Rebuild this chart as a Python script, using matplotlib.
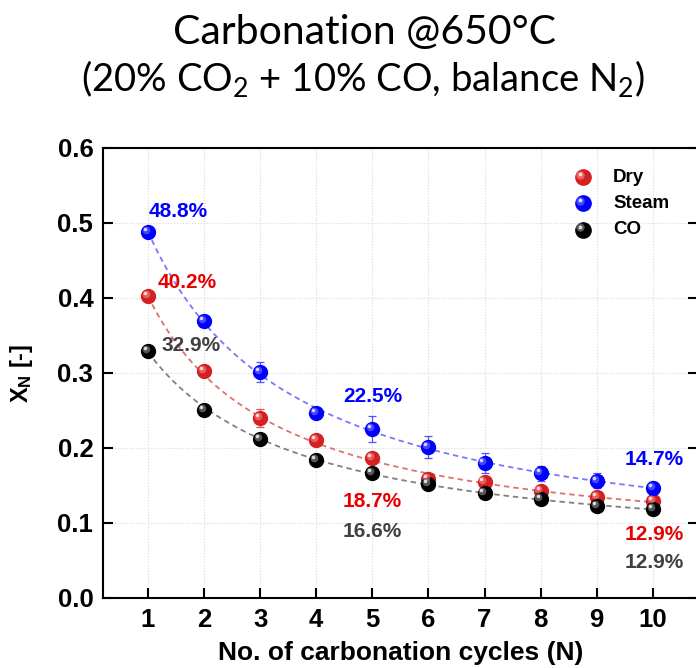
import numpy as np
import matplotlib
matplotlib.use("Agg")
import matplotlib.pyplot as plt
import matplotlib.transforms as mtransforms

plt.rcParams['font.family'] = ['Liberation Sans', 'DejaVu Sans']
plt.rcParams['mathtext.fontset'] = 'custom'
plt.rcParams['mathtext.rm'] = 'Lato'
plt.rcParams['mathtext.it'] = 'Lato:italic'
plt.rcParams['mathtext.bf'] = 'Liberation Sans:bold'

cycles = np.arange(1, 11)

dry = [0.402, 0.302, 0.240, 0.210, 0.187, 0.159, 0.154, 0.142, 0.134, 0.129]
dry_err = [0.003, 0.004, 0.012, 0.006, 0.005, 0.004, 0.004, 0.004, 0.004, 0.003]
steam = [0.488, 0.369, 0.301, 0.247, 0.225, 0.201, 0.180, 0.166, 0.156, 0.147]
steam_err = [0.003, 0.007, 0.013, 0.005, 0.017, 0.015, 0.013, 0.010, 0.010, 0.008]
co = [0.329, 0.251, 0.212, 0.184, 0.166, 0.152, 0.140, 0.132, 0.123, 0.118]
co_err = [0.003, 0.003, 0.004, 0.003, 0.003, 0.003, 0.003, 0.003, 0.003, 0.003]

# (cycle, text) for the percent annotations
dry_labels = [(1, "40.2%"), (5, "18.7%"), (10, "12.9%")]
steam_labels = [(1, "48.8%"), (5, "22.5%"), (10, "14.7%")]
co_labels = [(1, "32.9%"), (5, "16.6%"), (10, "12.9%")]

# where each annotation sits relative to its point (data units)
steam_off = {1: (0.54, 0.027), 5: (0.0, 0.044), 10: (0.02, 0.037)}
dry_off = {1: (0.70, 0.018), 5: (0.0, -0.059), 10: (0.02, -0.045)}
co_off = {1: (0.77, 0.008), 5: (0.0, -0.077), 10: (0.02, -0.071)}


def decay_fit(n, y):
    # X_N = Xr + 1/(p + k*N), residual Xr found by a simple scan
    n = np.asarray(n, float)
    y = np.asarray(y, float)
    best = None
    for xr in np.linspace(0, y.min() - 1e-3, 400):
        k, p = np.polyfit(n, 1.0 / (y - xr), 1)
        pred = xr + 1.0 / (p + k * n)
        sse = np.sum((pred - y) ** 2)
        if best is None or sse < best[0]:
            best = (sse, xr, p, k)
    _, xr, p, k = best
    return lambda x: xr + 1.0 / (p + k * x)


def sphere(ax, x, y, color, hi, size=10, z=5):
    # shaded ball: base disc plus a soft highlight up and to the left
    ax.plot(x, y, 'o', ms=size, color=color, mec=color, zorder=z, clip_on=False)
    off = mtransforms.offset_copy(ax.transData, fig=ax.figure, x=-1.6, y=1.6, units='points')
    ax.plot(x, y, 'o', ms=size * 0.55, color=hi, mec='none', alpha=0.55,
            transform=off, zorder=z + 0.1, clip_on=False)
    off2 = mtransforms.offset_copy(ax.transData, fig=ax.figure, x=-2.2, y=2.2, units='points')
    ax.plot(x, y, 'o', ms=size * 0.25, color='white', mec='none', alpha=0.8,
            transform=off2, zorder=z + 0.2, clip_on=False)


fig = plt.figure(figsize=(6.96, 6.68), dpi=100)
ax = fig.add_axes([0.148, 0.1048, 0.8545, 0.6737])

series = [
    ("Dry", dry, dry_err, '#d42020', '#ff9090', '#e07070', '#e05050'),
    ("Steam", steam, steam_err, '#0000ff', '#8080ff', '#7878ff', '#5050ff'),
    ("CO", co, co_err, '#000000', '#a0a0a0', '#808080', '#404040'),
]

xs = np.linspace(1, 10, 200)
for name, vals, err, col, hi, fitc, errc in series:
    f = decay_fit(cycles, vals)
    ax.plot(xs, f(xs), '--', color=fitc, lw=1.3, dashes=(3, 2.2), zorder=2)
    ax.errorbar(cycles, vals, yerr=err, fmt='none', ecolor=errc, elinewidth=0.9,
                capsize=3, capthick=0.9, zorder=3)
    sphere(ax, cycles, vals, col, hi)

for labels, vals, offs, col in [(steam_labels, steam, steam_off, '#0000ff'),
                                (dry_labels, dry, dry_off, '#e80000'),
                                (co_labels, co, co_off, '#404040')]:
    for n, t in labels:
        dx, dy = offs[n]
        ax.text(n + dx, vals[n - 1] + dy, t, color=col, fontsize=15,
                fontweight='bold', ha='center', va='center')

# legend drawn with the same shaded balls
for i, (name, vals, err, col, hi, fitc, errc) in enumerate(series):
    ly = 0.561 - i * 0.035
    sphere(ax, [8.75], [ly], col, hi, size=11)
    ax.text(9.29, ly, name, fontsize=13.5, fontweight='bold', va='center')

ax.set_xlim(0.2, 10.8)
ax.set_ylim(0, 0.6)
ax.set_xticks(cycles)
ax.set_yticks(np.arange(0, 0.61, 0.1))
ax.set_yticklabels([f"{v:.1f}" for v in np.arange(0, 0.61, 0.1)])
ax.grid(True, color='#d8d8d8', ls=':', lw=0.8)
ax.set_axisbelow(True)
ax.tick_params(direction='in', length=7, width=1.5, right=True, labelsize=18.5, pad=7)
for lbl in ax.get_xticklabels() + ax.get_yticklabels():
    lbl.set_fontweight('bold')
for s in ax.spines.values():
    s.set_linewidth(1.5)

ax.set_xlabel("No. of carbonation cycles (N)", fontsize=19, fontweight='bold', labelpad=7)
ax.set_ylabel(r"X$_\mathbf{N}$ [-]", fontsize=17, fontweight='bold')
ax.yaxis.set_label_coords(-0.115, 0.5)

fig.text(0.523, 0.952, "Carbonation @650°C", family='Lato', fontsize=29.5,
         ha='center', va='center')
fig.text(0.522, 0.883, r"(20% CO$_2$ + 10% CO, balance N$_2$)", family='Lato',
         fontsize=27.5, ha='center', va='center')

fig.savefig("out.png", dpi=100)
